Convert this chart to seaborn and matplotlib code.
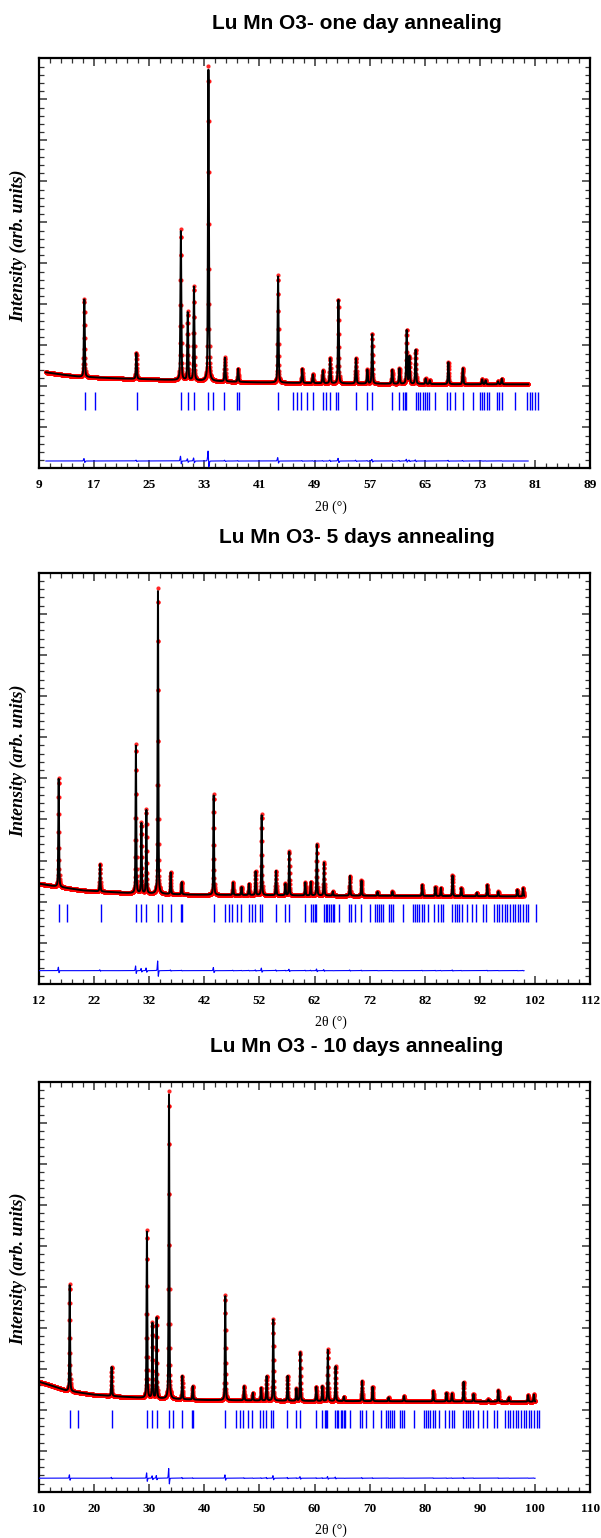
import numpy as np
import pandas as pd
import matplotlib
matplotlib.use("Agg")
import matplotlib.pyplot as plt
from matplotlib.ticker import FixedLocator
import seaborn as sns

# ------------------------------------------------------------------ data
titles = ["Lu Mn O3- one day annealing",
          "Lu Mn O3- 5 days annealing",
          "Lu Mn O3 - 10 days annealing"]

# panel 1 (one day) -- peak positions (2theta, deg) and observed peak tops (arb. units)
p1_peak_pos = [15.6, 23.15, 29.6, 30.6, 31.5, 33.6, 36.0, 37.9, 43.7, 47.2, 48.75,
               50.2, 51.25, 52.45, 55.0, 56.65, 57.35, 60.25, 61.3, 62.35, 62.75,
               63.65, 65.1, 65.7, 68.4, 70.5, 73.3, 73.8, 75.6, 76.15]
p1_peak_top = [169.7, 115.7, 238.7, 156.3, 182.3, 402.0, 110.7, 99.7, 193.0, 99.7, 94.0,
               98.0, 110.3, 169.7, 110.3, 98.7, 134.7, 98.7, 100.0, 138.7, 112.0,
               119.0, 89.7, 88.0, 106.3, 100.3, 89.0, 88.0, 87.0, 89.7]
p1_bg_x = [10, 12, 15, 20, 25, 30, 40, 50, 60, 70, 80]
p1_bg_y = [96.0, 94.0, 91.5, 90.0, 89.0, 88.0, 86.0, 85.0, 84.5, 84.0, 84.0]
p1_data_range = (10.0, 80.0)
p1_diff_level = 7.3
p1_bragg_level = 67.2
p1_bragg_max = 81.7

# panel 2 (5 days)
p2_peak_pos = [15.6, 23.1, 29.6, 30.6, 31.5, 33.6, 35.9, 37.9, 43.7, 47.2, 48.75,
               50.1, 51.3, 52.4, 55.0, 56.7, 57.4, 60.3, 61.3, 62.4, 63.7, 65.3,
               68.4, 70.5, 73.4, 76.1, 81.5, 83.9, 84.9, 87.0, 88.6, 91.4, 93.3,
               95.3, 98.75, 99.8]
p2_peak_top = [205.7, 119.7, 239.0, 160.7, 174.0, 395.0, 111.3, 101.7, 189.0, 101.3, 96.7,
               100.0, 112.3, 169.0, 113.0, 100.0, 132.3, 101.3, 102.0, 139.7, 121.3, 92.3,
               108.0, 103.3, 92.0, 92.3, 99.0, 96.7, 96.0, 108.3, 95.7, 91.0, 99.0,
               92.3, 94.0, 95.7]
p2_bg_x = [12, 15, 20, 28, 40, 60, 80, 100]
p2_bg_y = [100.0, 97.3, 93.3, 90.7, 89.0, 88.3, 87.8, 87.3]
p2_data_range = (12.0, 100.0)
p2_diff_level = 13.3
p2_bragg_level = 70.3
p2_bragg_max = 102.3

# panel 3 (10 days)
p3_peak_pos = [15.6, 23.2, 29.6, 30.6, 31.35, 33.6, 36.0, 37.9, 43.8, 47.2, 48.8,
               50.3, 51.3, 52.5, 55.1, 56.7, 57.4, 60.3, 61.4, 62.4, 63.8, 65.3,
               68.6, 70.5, 73.4, 76.2, 81.5, 83.9, 84.9, 87.0, 88.8, 91.5, 93.3,
               95.2, 98.7, 99.75]
p3_peak_top = [207.7, 125.0, 261.7, 169.0, 175.0, 400.7, 116.0, 105.7, 196.7, 105.7, 99.0,
               104.0, 115.7, 173.0, 116.0, 103.3, 140.0, 105.0, 105.7, 142.3, 125.7, 95.0,
               111.0, 105.0, 94.3, 95.7, 101.0, 99.0, 98.3, 110.0, 97.7, 92.3, 101.7,
               94.3, 96.7, 97.3]
p3_bg_x = [10, 12, 15, 20, 25, 30, 40, 60, 100]
p3_bg_y = [110.0, 106.7, 101.0, 97.0, 95.0, 93.5, 91.7, 90.7, 90.0]
p3_data_range = (10.0, 100.0)
p3_diff_level = 13.5
p3_bragg_level = 72.5
p3_bragg_max = 101.0

# Bragg reflection positions (2theta, deg)
bragg_positions = [15.65, 17.1, 23.2, 29.6, 30.6, 31.5, 33.6, 34.3, 35.9, 37.8, 38.0,
                   43.75, 45.8, 46.4, 47.1, 47.9, 48.7, 50.15, 50.7, 51.2, 52.1, 52.45,
                   55.0, 56.65, 57.3, 60.2, 61.3, 61.8, 62.05, 62.3, 63.7, 64.0, 64.3,
                   64.7, 65.0, 65.3, 65.6, 66.4, 68.2, 68.6, 69.3, 70.5, 72.0, 73.0,
                   73.3, 73.6, 74.0, 74.35, 75.45, 75.8, 76.2, 78.0, 79.8, 80.2, 80.5,
                   81.0, 81.4, 81.8, 82.6, 83.65, 84.4, 84.85, 85.3, 86.85, 87.45, 87.75,
                   88.25, 88.65, 89.55, 90.5, 91.25, 92.6, 93.05, 94.5, 95.0, 95.5, 95.9,
                   96.5, 96.95, 97.4, 97.9, 98.4, 98.9, 99.3, 99.8, 100.3, 100.7, 102.2]

# x tick labels per panel
p1_xticks = [9, 17, 25, 33, 41, 49, 57, 65, 73, 81, 89]
p2_xticks = [12, 22, 32, 42, 52, 62, 72, 82, 92, 102, 112]
p3_xticks = [10, 20, 30, 40, 50, 60, 70, 80, 90, 100, 110]
xticks_all = [p1_xticks, p2_xticks, p3_xticks]

# ------------------------------------------------------------------ helpers
FWHM = 0.16
STEP = 0.02


def pattern(x, pos, top, bgx, bgy, shift=0.0, scale=1.0):
    bg = np.interp(x, bgx, bgy)
    y = bg.copy()
    for p, t in zip(pos, top):
        a = (t - np.interp(p, bgx, bgy)) * scale
        d = x - p - shift
        g = np.exp(-4 * np.log(2) * d ** 2 / FWHM ** 2)
        lo = 1.0 / (1.0 + 4 * d ** 2 / FWHM ** 2)
        y = y + a * (0.65 * g + 0.35 * lo)
    return y


panels = [
    (p1_peak_pos, p1_peak_top, p1_bg_x, p1_bg_y, p1_data_range, p1_diff_level, p1_bragg_level, p1_bragg_max),
    (p2_peak_pos, p2_peak_top, p2_bg_x, p2_bg_y, p2_data_range, p2_diff_level, p2_bragg_level, p2_bragg_max),
    (p3_peak_pos, p3_peak_top, p3_bg_x, p3_bg_y, p3_data_range, p3_diff_level, p3_bragg_level, p3_bragg_max),
]

# ------------------------------------------------------------------ figure
sns.set_theme(style="white")
plt.rcParams['font.family'] = ['Liberation Serif', 'DejaVu Serif']
plt.rcParams['text.color'] = 'black'
plt.rcParams['xtick.color'] = 'black'

W, H = 601, 1538
fig = plt.figure(figsize=(W / 100, H / 100), dpi=100)

ax_px = [(38.8, 58.3, 590.4, 468.3), (38.8, 572.7, 590.4, 984.0), (38.8, 1081.7, 590.4, 1491.7)]
title_y = [23.3, 538.0, 1046.7]

for i, (pos, top, bgx, bgy, drange, dlev, blev, bmax) in enumerate(panels):
    l, t, r, b = ax_px[i]
    ax = fig.add_axes([l / W, 1 - b / H, (r - l) / W, (b - t) / H])

    x = np.arange(drange[0], drange[1] + STEP / 2, STEP)
    y_obs = pattern(x, pos, top, bgx, bgy)
    y_calc = pattern(x, pos, top, bgx, bgy, shift=0.003, scale=0.99)
    df = pd.DataFrame({"two_theta": x, "obs": y_obs, "calc": y_calc,
                       "diff": y_obs - y_calc + dlev})

    sns.scatterplot(data=df, x="two_theta", y="obs", ax=ax, color="#ff0000",
                    s=9, linewidth=0, alpha=0.85, zorder=2, legend=False)
    sns.lineplot(data=df, x="two_theta", y="calc", ax=ax, color="black",
                 linewidth=1.4, estimator=None, sort=False, zorder=3)
    sns.lineplot(data=df, x="two_theta", y="diff", ax=ax, color="#0000ff",
                 linewidth=0.8, estimator=None, sort=False, zorder=3)

    bp = [p for p in bragg_positions if p <= bmax]
    bdf = pd.DataFrame({"two_theta": bp, "level": [blev] * len(bp)})
    sns.scatterplot(data=bdf, x="two_theta", y="level", ax=ax, marker="|",
                    s=150, color="#0000ff", linewidth=1.0, zorder=3, legend=False)

    xt = xticks_all[i]
    step = xt[1] - xt[0]
    ax.set_xlim(xt[0], xt[-1])
    ax.set_ylim(0, 410)
    ax.xaxis.set_major_locator(FixedLocator(xt))
    ax.xaxis.set_minor_locator(FixedLocator(np.arange(xt[0], xt[-1] + 0.01, step / 5)))
    ax.yaxis.set_major_locator(FixedLocator(np.arange(0, 411, 41)))
    ax.yaxis.set_minor_locator(FixedLocator(np.arange(0, 411, 8.2)))
    ax.tick_params(which="both", direction="in", top=True, right=True,
                   bottom=True, left=True, color="#333333")
    ax.tick_params(which="major", length=6, width=1.1)
    ax.tick_params(which="minor", length=3.5, width=0.9)
    ax.tick_params(axis="x", labelsize=9.5, pad=8, labelcolor="black")
    ax.tick_params(axis="y", labelleft=False)
    ax.set_xticks(xt)
    ax.set_xticklabels([str(v) for v in xt], fontweight="bold")
    for sp in ax.spines.values():
        sp.set_color("black")
        sp.set_linewidth(1.6)
    ax.set_xlabel("")
    ax.set_ylabel("")

    # title
    fig.text(357 / W, 1 - title_y[i] / H, titles[i], ha="center", va="center",
             fontsize=15, fontweight="bold", color="black",
             family=["Liberation Sans", "DejaVu Sans"])
    # x label
    fig.text(331 / W, 1 - (b + 38.5) / H, "2θ (°)", ha="center", va="center",
             fontsize=10, color="black", family=["Liberation Serif", "DejaVu Serif"])
    # y label
    fig.text(19 / W, 1 - ((t + b) / 2 - 18) / H, "Intensity (arb. units)",
             rotation=90, ha="center", va="center", fontsize=13,
             fontweight="bold", fontstyle="italic", color="black",
             family=["Liberation Serif", "DejaVu Serif"])

fig.savefig("out.png", dpi=100)
